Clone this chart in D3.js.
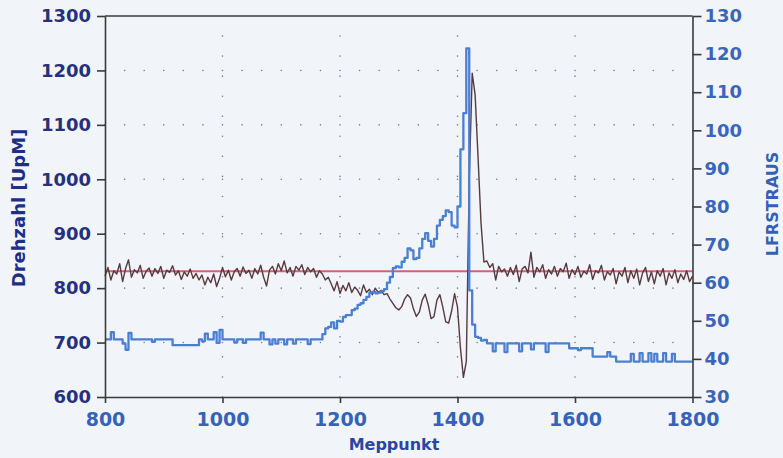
<!DOCTYPE html>
<html>
<head>
<meta charset="utf-8">
<script src="https://cdn.jsdelivr.net/npm/d3@7"></script>
<style>
  html, body { margin: 0; padding: 0; background: #f1f5fa; }
  svg { display: block; font-family: "DejaVu Sans", Verdana, sans-serif; font-weight: bold; }
</style>
</head>
<body>
<div id="chart"></div>
<script>
// Messpunkt: every 5th sample from 800 to 1800
const messStart = 800, messStep = 5;

// Drehzahl [UpM], left axis
const drehzahl = [
  822, 838, 815, 832, 826, 845, 812, 836, 852, 820,   // 800..845
  834, 828, 842, 818, 831, 837, 822, 836, 827, 840,   // 850..895
  818, 833, 829, 841, 824, 832, 816, 830, 822, 835,   // 900..945
  818, 827, 815, 824, 806, 820, 810, 826, 803, 818,   // 950..995
  838, 821, 833, 815, 830, 836, 822, 839, 827, 833,   // 1000..1045
  818, 836, 826, 842, 820, 804, 833, 840, 826, 845,   // 1050..1095
  832, 850, 828, 838, 822, 840, 833, 843, 825, 838,   // 1100..1145
  830, 836, 820, 832,                                 // 1150..1165
  826, 815, 820, 808, 795, 812, 790, 805, 795, 810,   // 1170..1215
  792, 802, 796, 786, 806, 792, 798, 788, 800, 792,   // 1220..1265
  796, 788, 790,                                      // 1270..1280
  780, 772, 764, 760, 766, 780, 788, 782, 762, 748,   // 1285..1330
  756, 778, 789, 770, 744, 748, 778, 788, 765, 738,   // 1335..1380
  736, 758, 790,                                      // 1385..1395
  765, 690, 636, 665, 1000, 1195, 1155, 1040, 920, 848, // 1400..1445
  850, 838, 845, 815, 840, 830, 835, 822, 838, 825,   // 1450..1495
  842, 812, 835, 840, 828, 866, 820, 838, 830, 843,   // 1500..1545
  818, 834, 826, 840, 822, 836, 830, 846, 818, 834,   // 1550..1595
  825, 840, 820, 831, 826, 843, 816, 832, 828, 842,   // 1600..1645
  815, 830, 824, 836, 808, 830, 822, 838, 810, 832,   // 1650..1695
  818, 835, 806, 828, 838, 812, 830, 808, 832, 822,   // 1700..1745
  836, 806, 828, 818, 834, 810, 826, 816, 832, 812,   // 1750..1795
  822                                                 // 1800
];

// LFRSTRAUS, right axis
const lfrstraus = [
  45.1, 45.1, 47.0, 45.1, 45.1, 45.1, 44.0, 42.4, 46.8, 45.1,  // 800..845
  45.1, 45.1, 45.1, 45.1, 45.1, 45.1, 44.5, 45.1, 45.1, 45.1,  // 850..895
  45.1, 45.1, 45.1, 43.6, 43.6, 43.6, 43.6, 43.6, 43.6, 43.6,  // 900..945
  43.6, 43.6, 45.1, 44.6, 46.6, 45.1, 45.1, 47.0, 44.2, 47.6,  // 950..995
  45.1, 45.1, 45.1, 45.1, 44.3, 45.1, 45.1, 44.2, 45.1, 45.1,  // 1000..1045
  45.1, 45.1, 45.1, 46.9, 45.1, 45.1, 43.8, 45.1, 44.0, 45.1,  // 1050..1095
  45.1, 43.8, 45.1, 45.1, 44.0, 45.1, 45.1, 45.1, 45.1, 43.9,  // 1100..1145
  45.1, 45.1, 45.1, 45.1,                                      // 1150..1165
  46.5, 48.0, 48.4, 49.6, 48.0, 50.0, 49.8, 51.0, 51.5, 51.5,  // 1170..1215
  52.8, 53.2, 54.2, 54.6, 55.5, 56.3, 57.4, 57.6, 57.2, 57.4,  // 1220..1265
  57.8, 58.3, 60.0,                                            // 1270..1280
  61.5, 63.8, 64.3, 64.0, 65.5, 66.5, 69.0, 68.5, 66.2, 66.5,  // 1285..1330
  69.0, 71.5, 73.0, 71.0, 69.5, 71.5, 75.0, 76.5, 77.5, 79.0,  // 1335..1380
  78.5, 75.0, 74.5,                                            // 1385..1395
  80.0, 95.0, 104.5, 121.5, 58.0, 49.0, 45.8, 45.5, 44.8, 45.0, // 1400..1445
  44.1, 44.1, 42.0, 44.1, 44.1, 44.1, 41.8, 44.1, 44.1, 44.1,  // 1450..1495
  44.1, 42.0, 44.1, 44.1, 44.1, 42.5, 44.1, 44.1, 44.1, 44.1,  // 1500..1545
  41.8, 44.1, 44.1, 44.1, 44.1, 44.1, 44.1, 44.1, 42.8, 42.8,  // 1550..1595
  42.8, 42.3, 42.8, 42.8, 42.8, 42.8, 40.6, 40.6, 40.6, 40.6,  // 1600..1645
  40.6, 41.8, 40.6, 40.6, 39.3, 39.3, 39.3, 39.3, 39.3, 41.3,  // 1650..1695
  39.3, 39.3, 41.5, 39.3, 39.3, 41.5, 39.3, 41.3, 39.3, 39.3,  // 1700..1745
  41.5, 39.3, 39.3, 41.3, 39.3, 39.3, 39.3, 39.3, 39.3, 39.3,  // 1750..1795
  39.3                                                         // 1800
];

// reference level (pink line), left axis
const referenzDrehzahl = 831;

const xTicks = [800, 1000, 1200, 1400, 1600, 1800];
const leftTicks = [600, 700, 800, 900, 1000, 1100, 1200, 1300];
const rightTicks = [30, 40, 50, 60, 70, 80, 90, 100, 110, 120, 130];
const gridX = [1000, 1200, 1400, 1600];
const gridY = [700, 800, 900, 1000, 1100, 1200];

const W = 783, H = 458;
const margin = { left: 105, right: 90.5, top: 16, bottom: 61 };

const svg = d3.select('#chart')
  .append('svg')
  .attr('width', W)
  .attr('height', H);

svg.append('rect')
  .attr('width', W).attr('height', H)
  .attr('fill', '#f1f5fa');

const x = d3.scaleLinear().domain([800, 1800]).range([margin.left, W - margin.right]);
const yL = d3.scaleLinear().domain([600, 1300]).range([H - margin.bottom, margin.top]);
const yR = d3.scaleLinear().domain([30, 130]).range([H - margin.bottom, margin.top]);

const messpunkt = d3.range(drehzahl.length).map(i => messStart + i * messStep);

// dotted grid
const grid = svg.append('g').attr('class', 'grid')
  .attr('stroke', '#7a7d84')
  .attr('stroke-width', 1.6)
  .attr('stroke-linecap', 'round');

const xStepPx = (x.range()[1] - x.range()[0]) / 30;
const yStepPx = (yL.range()[0] - yL.range()[1]) / 19;

grid.selectAll('line.h')
  .data(gridY)
  .join('line')
    .attr('class', 'h')
    .attr('x1', x(800)).attr('x2', x(1800))
    .attr('y1', d => yL(d)).attr('y2', d => yL(d))
    .attr('stroke-dasharray', `0 ${xStepPx}`);

grid.selectAll('line.v')
  .data(gridX)
  .join('line')
    .attr('class', 'v')
    .attr('x1', d => x(d)).attr('x2', d => x(d))
    .attr('y1', yL(600)).attr('y2', yL(1300))
    .attr('stroke-dasharray', `0 ${yStepPx}`);

// reference line
svg.append('line')
  .attr('x1', x(800)).attr('x2', x(1800))
  .attr('y1', yL(referenzDrehzahl)).attr('y2', yL(referenzDrehzahl))
  .attr('stroke', '#d4607c')
  .attr('stroke-width', 2);

// Drehzahl line
svg.append('path')
  .datum(drehzahl)
  .attr('fill', 'none')
  .attr('stroke', '#573a3c')
  .attr('stroke-width', 1.4)
  .attr('stroke-linejoin', 'round')
  .attr('d', d3.line()
    .x((d, i) => x(messpunkt[i]))
    .y(d => yL(d)));

// LFRSTRAUS line
svg.append('path')
  .datum(lfrstraus)
  .attr('fill', 'none')
  .attr('stroke', '#4a7fd2')
  .attr('stroke-width', 2.3)
  .attr('stroke-linejoin', 'round')
  .attr('d', d3.line()
    .curve(d3.curveStepAfter)
    .x((d, i) => x(messpunkt[i]))
    .y(d => yR(d)));

// frame
const frameColor = '#3a3a3a';
svg.append('line')
  .attr('x1', x(800)).attr('x2', x(1800))
  .attr('y1', yL(1300)).attr('y2', yL(1300))
  .attr('stroke', frameColor).attr('stroke-width', 1.6);

// axes
const leftAxis = svg.append('g')
  .attr('transform', `translate(${x(800)},0)`)
  .call(d3.axisLeft(yL).tickValues(leftTicks).tickFormat(d3.format('d'))
    .tickSize(8).tickSizeOuter(0).tickPadding(6));

const rightAxis = svg.append('g')
  .attr('transform', `translate(${x(1800)},0)`)
  .call(d3.axisRight(yR).tickValues(rightTicks).tickFormat(d3.format('d'))
    .tickSize(9).tickSizeOuter(0).tickPadding(3));

const bottomAxis = svg.append('g')
  .attr('transform', `translate(0,${yL(600)})`)
  .call(d3.axisBottom(x).tickValues(xTicks).tickFormat(d3.format('d'))
    .tickSize(6).tickSizeOuter(0).tickPadding(10));

[leftAxis, rightAxis, bottomAxis].forEach(g => {
  g.select('.domain').attr('stroke', frameColor).attr('stroke-width', 1.6);
  g.selectAll('.tick line').attr('stroke', frameColor).attr('stroke-width', 1.6);
  g.selectAll('text').attr('font-family', '"DejaVu Sans", Verdana, sans-serif').attr('font-weight', 'bold');
});

leftAxis.selectAll('text').attr('font-size', 18).attr('fill', '#27307a');
rightAxis.selectAll('text').attr('font-size', 18).attr('fill', '#3b65b9');
bottomAxis.selectAll('text').attr('font-size', 19).attr('fill', '#3563b8');

// axis titles
svg.append('text')
  .attr('transform', `translate(25,${208}) rotate(-90)`)
  .attr('text-anchor', 'middle')
  .attr('font-size', 18)
  .attr('fill', '#1f2f86')
  .text('Drehzahl [UpM]');

svg.append('text')
  .attr('transform', `translate(778,${204}) rotate(-90)`)
  .attr('text-anchor', 'middle')
  .attr('font-size', 16)
  .attr('fill', '#3560b8')
  .text('LFRSTRAUS');

svg.append('text')
  .attr('x', 394)
  .attr('y', 450)
  .attr('text-anchor', 'middle')
  .attr('font-size', 16)
  .attr('fill', '#2b45a0')
  .text('Meppunkt');
</script>
</body>
</html>
